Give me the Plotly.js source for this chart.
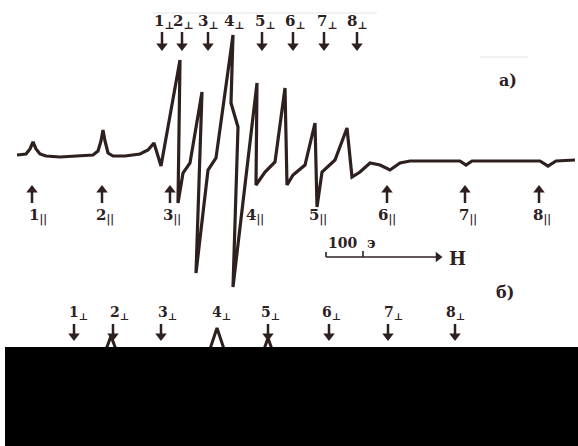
<!DOCTYPE html>
<html><head><meta charset="utf-8">
<script src="https://cdn.plot.ly/plotly-3.0.1.min.js"></script>
<style>html,body{margin:0;padding:0;background:#fff}#g{width:578px;height:446px}</style>
</head><body><div id="g"></div>
<script>
// Spectrum a) : field (arbitrary units along H) and signal (arbitrary units, baseline 0)
const fieldA = [17,26,30,33,36,40,46,60,93,98,101,103,105,108,113,125,140,148,154,161,180,178,183,190,202,196,208,216,233,231,238,233,257,256,265,275,285,287,293,305,315,317,322,335,347,352,360,370,380,390,400,410,460,466,472,540,548,556,575];
const signalA = [0,1,6,13,6,1,-1,-2,0,4,14,25,14,2,-1,-1,1,5,12,-11,95,-48,-18,-8,63,-118,-15,-3,120,52,28,-132,72,-30,-17,-7,67,-30,-20,-10,32,-52,-17,-5,27,-22,-17,-8,-10,-15,-8,-6,-6,-10,-6,-6,-11,-6,-5];
// Spectrum b) : only the tops that stay above the cover are visible
const fieldB = [104,111,118,null,208,217,226,null,262,268,274];
const signalB = [-200,-181,-200,null,-200,-173,-200,null,-200,-183,-200];

const perpLabels = ['1','2','3','4','5','6','7','8'];
const perpTopX = [164,183,208,234,265,295,327,357];
const perpTopArrowX = [162,182,208,null,262,293,324,357];
const parLabels = ['1','2','3','4','5','6','7','8'];
const parX = [38,105,172,255,318,387,468,542];
const parArrowX = [32,102,170,null,null,387,465,539];
const perpBotLabels = ['1','2','3','4','5','6','7','8'];
const perpBotX = [78,119,167,221,270,331,393,455];
const perpBotArrowX = [74,113,161,null,268,329,388,455];

const B = 155; // baseline row in the drawing frame
const Y = py => B - py;
const ink = '#2e201f';
const font = {family:'"DejaVu Serif", "Liberation Serif", serif', color:ink, size:15, weight:'bold'};

// arrows as line segments + triangle tips
const shaftX = [], shaftY = [], tipDX = [], tipDY = [], tipUX = [], tipUY = [];
function down(x, top, tip){ shaftX.push(x,x,null); shaftY.push(Y(top),Y(tip-4),null); tipDX.push(x); tipDY.push(Y(tip-4)); }
function up(x, tip, bottom){ shaftX.push(x,x,null); shaftY.push(Y(bottom),Y(tip+4),null); tipUX.push(x); tipUY.push(Y(tip+4)); }
perpTopArrowX.forEach(x=>{ if(x!==null) down(x,32,50); });
parArrowX.forEach(x=>{ if(x!==null) up(x,186,203); });
perpBotArrowX.forEach(x=>{ if(x!==null) down(x,324,340); });

const ann = [];
perpLabels.forEach((t,i)=>{
  ann.push({x:perpTopX[i], y:Y(21), text:t+'<sub>⊥</sub>', showarrow:false, font:font, xanchor:'center', yanchor:'middle'});
});
parLabels.forEach((t,i)=>{
  ann.push({x:parX[i], y:Y(216), text:t+'<sub>||</sub>', showarrow:false, font:font, xanchor:'center', yanchor:'middle'});
});
perpBotLabels.forEach((t,i)=>{
  ann.push({x:perpBotX[i], y:Y(313), text:t+'<sub>⊥</sub>', showarrow:false, font:Object.assign({},font,{size:14}), xanchor:'center', yanchor:'middle'});
});
ann.push({x:508, y:Y(80), text:'a)', showarrow:false, font:Object.assign({},font,{size:16})});
ann.push({x:505, y:Y(292), text:'б)', showarrow:false, font:Object.assign({},font,{size:16})});
ann.push({x:352, y:Y(243), text:'100 &nbsp;э', showarrow:false, font:Object.assign({},font,{size:14})});
ann.push({x:457, y:Y(258), text:'H', showarrow:false, font:Object.assign({},font,{size:18})});

const faint = '#e4e4e4';
const shapes = [
  {type:'line', x0:153, x1:377, y0:Y(13), y1:Y(13), line:{color:faint, width:1}},
  {type:'line', x0:480, x1:528, y0:Y(57), y1:Y(57), line:{color:faint, width:1}},
  {type:'line', x0:326, x1:438, y0:Y(257), y1:Y(257), line:{color:ink, width:1.6}},
  {type:'line', x0:363, x1:363, y0:Y(257), y1:Y(251), line:{color:ink, width:1.6}},
  {type:'line', x0:326, x1:326, y0:Y(257), y1:Y(252), line:{color:ink, width:1.6}},
  {type:'rect', x0:5, x1:578, y0:Y(347), y1:Y(446), fillcolor:'#000', line:{width:0}, layer:'above'}
];

const data = [
  {x:fieldA, y:signalA, mode:'lines', line:{color:ink, width:3.2}, hoverinfo:'skip'},
  {x:fieldB, y:signalB, mode:'lines', line:{color:ink, width:3}, connectgaps:false, hoverinfo:'skip'},
  {x:shaftX, y:shaftY, mode:'lines', line:{color:ink, width:2.5}, connectgaps:false, hoverinfo:'skip'},
  {x:tipDX, y:tipDY, mode:'markers', marker:{symbol:'triangle-down', size:10, color:ink}, hoverinfo:'skip'},
  {x:tipUX, y:tipUY, mode:'markers', marker:{symbol:'triangle-up', size:10, color:ink}, hoverinfo:'skip'},
  {x:[438], y:[Y(257)], mode:'markers', marker:{symbol:'triangle-right', size:9, color:ink}, hoverinfo:'skip'}
];
const layout = {
  width:578, height:446, margin:{l:0,r:0,t:0,b:0}, showlegend:false,
  paper_bgcolor:'#fff', plot_bgcolor:'#fff',
  xaxis:{range:[0,578], visible:false, fixedrange:true},
  yaxis:{range:[Y(446), Y(0)], visible:false, fixedrange:true},
  annotations:ann, shapes:shapes
};
Plotly.newPlot('g', data, layout, {staticPlot:true});
</script></body></html>
